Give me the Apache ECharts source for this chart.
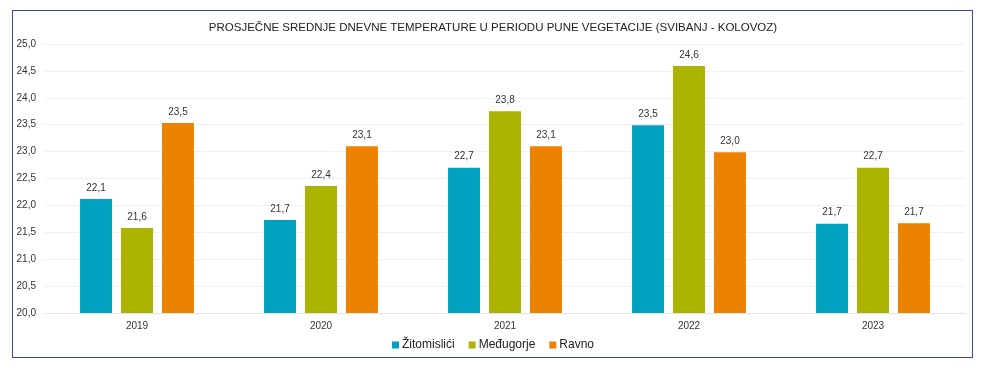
<!DOCTYPE html>
<html><head><meta charset="utf-8">
<script src="https://cdn.jsdelivr.net/npm/echarts@6/dist/echarts.min.js"></script>
<style>html,body{margin:0;padding:0;background:#fff}#frame{position:absolute;left:12px;top:10px;width:961px;height:348px;border:1.5px solid #3a45a0;box-sizing:border-box}#c{position:absolute;left:0;top:0;width:986px;height:372px}</style>
</head><body><div id="frame"></div><div id="c"></div>
<script>
const categories = ['2019','2020','2021','2022','2023'];
const zitomislici = [22.12, 21.73, 22.70, 23.49, 21.66];
const medugorje = [21.58, 22.36, 23.75, 24.59, 22.70];
const ravno = [23.53, 23.10, 23.10, 22.99, 21.67];
const yTicks = [20,20.5,21,21.5,22,22.5,23,23.5,24,24.5,25];
const fmt = v => v.toFixed(1).replace('.', ',');
const chart = echarts.init(document.getElementById('c'));
const lbl = {show:true, position:'top', distance:6, fontSize:10, color:'#333', fontFamily:'Liberation Sans', formatter:p=>fmt(p.value)};
const mk = (name, data, color) => ({name, type:'bar', data, barWidth:32, barGap:'28%', itemStyle:{color}, label:lbl});
chart.setOption({
  animation:false,
  title:{text:'PROSJEČNE SREDNJE DNEVNE TEMPERATURE U PERIODU PUNE VEGETACIJE (SVIBANJ - KOLOVOZ)', left:'center', top:17, textStyle:{fontSize:11.5, fontWeight:'normal', color:'#222', fontFamily:'Liberation Sans'}},
  legend:{bottom:16, left:'center', itemWidth:7, itemHeight:7, itemGap:14, icon:'rect', textStyle:{fontSize:12, color:'#222', fontFamily:'Liberation Sans', padding:[0,0,0,-2]}},
  grid:{left:45, right:21, top:44, bottom:59},
  xAxis:{type:'category', data:categories, axisTick:{show:false}, axisLine:{lineStyle:{color:'#e4e4e4'}}, axisLabel:{fontSize:10, color:'#333', margin:8, fontFamily:'Liberation Sans'}},
  yAxis:{type:'value', min:yTicks[0], max:yTicks[yTicks.length-1], interval:0.5, splitLine:{lineStyle:{color:'#f0f0f0'}}, axisLabel:{fontSize:10, color:'#333', margin:9, fontFamily:'Liberation Sans', formatter:v=>fmt(v)}},
  series:[mk('Žitomislići', zitomislici, '#00a2c0'), mk('Međugorje', medugorje, '#abb500'), mk('Ravno', ravno, '#ec8300')]
});
</script></body></html>
